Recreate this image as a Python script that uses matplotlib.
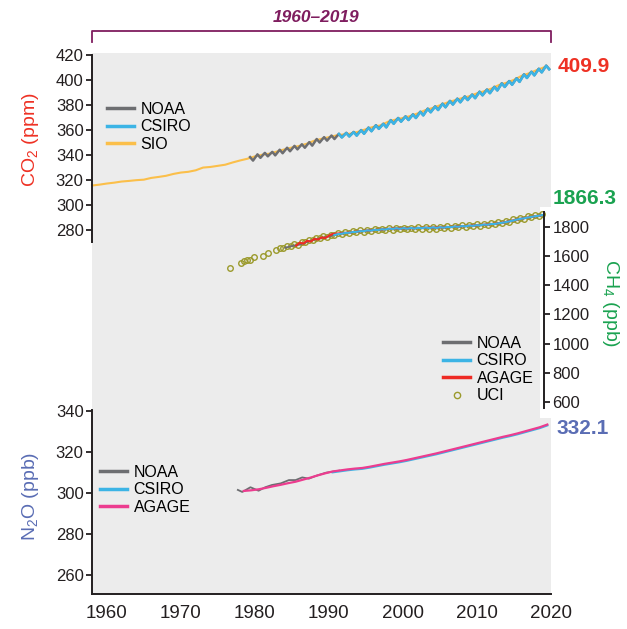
import numpy as np
import matplotlib
matplotlib.use('Agg')
import matplotlib.pyplot as plt
from matplotlib import font_manager
from matplotlib.patches import Rectangle
from matplotlib.lines import Line2D

# --- data ---
# CO2 (ppm)
co2_sio_years = np.arange(1958, 2020)
co2_sio = [315.3, 316.0, 316.9, 317.6, 318.5, 319.0, 319.6, 320.0, 321.4, 322.2,
           323.1, 324.6, 325.7, 326.3, 327.5, 329.7, 330.2, 331.1, 332.0, 333.8,
           335.4, 336.8, 338.7, 340.0, 340.9, 342.6, 344.3, 345.8, 347.1, 348.8,
           351.2, 352.8, 354.1, 355.5, 356.3, 357.0, 358.5, 360.5, 362.4, 363.6,
           366.5, 368.2, 369.5, 371.1, 373.2, 375.7, 377.5, 379.7, 381.9, 383.7,
           385.5, 387.0, 389.3, 391.0, 393.2, 396.0, 397.8, 400.1, 403.2, 405.3,
           407.7, 410.0]

co2_noaa_years = np.arange(1979, 2020)
co2_noaa_peak = [338.1, 340.3, 341.5, 342.3, 344.0, 345.6, 347.1, 348.4, 350.1, 352.6,
                 354.1, 355.4, 356.8, 357.6, 358.3, 359.8, 361.8, 363.7, 364.9, 367.8,
                 369.5, 370.8, 372.4, 374.5, 377.0, 378.8, 381.0, 383.2, 385.0, 386.8,
                 388.3, 390.6, 392.3, 394.5, 397.3, 399.1, 401.4, 404.5, 406.6, 409.0,
                 411.5]
co2_noaa_trough = [335.3, 337.5, 338.7, 339.5, 341.2, 342.8, 344.3, 345.6, 347.3, 349.8,
                   351.3, 352.6, 354.0, 354.8, 355.5, 357.0, 359.0, 360.9, 362.1, 365.0,
                   366.7, 368.0, 369.6, 371.7, 374.2, 376.0, 378.2, 380.4, 382.2, 384.0,
                   385.5, 387.8, 389.5, 391.7, 394.5, 396.3, 398.6, 401.7, 403.8, 406.2,
                   408.7]

co2_csiro_years = np.arange(1991, 2020)
co2_csiro_peak = [356.6, 357.4, 358.1, 359.6, 361.6, 363.5, 364.7, 367.6, 369.3, 370.6,
                  372.2, 374.3, 376.8, 378.6, 380.8, 383.0, 384.8, 386.6, 388.1, 390.4,
                  392.1, 394.3, 397.1, 398.9, 401.2, 404.3, 406.4, 408.8, 411.3]
co2_csiro_trough = [353.8, 354.6, 355.3, 356.8, 358.8, 360.7, 361.9, 364.8, 366.5, 367.8,
                    369.4, 371.5, 374.0, 375.8, 378.0, 380.2, 382.0, 383.8, 385.3, 387.6,
                    389.3, 391.5, 394.3, 396.1, 398.4, 401.5, 403.6, 406.0, 408.5]

# CH4 (ppb)
ch4_noaa_years = np.arange(1984, 2020) + 0.5
ch4_noaa = [1656, 1668, 1677, 1695, 1711, 1723, 1733, 1745, 1754, 1760,
            1766, 1771, 1775, 1779, 1783, 1786, 1787, 1788, 1789, 1791,
            1792, 1793, 1795, 1798, 1801, 1804, 1807, 1811, 1815, 1820,
            1828, 1838, 1850, 1859, 1867, 1874]

ch4_agage_years = [1986.0, 1986.5, 1987.0, 1987.5, 1988.0, 1988.5, 1989.0, 1989.5,
                   1990.0, 1990.5, 1991.0] + list(np.arange(1992, 2020) + 0.5)
ch4_agage = [1670, 1690, 1684, 1703, 1698, 1716, 1712, 1726, 1722, 1738, 1750,
             1756, 1761, 1767, 1772, 1776, 1780, 1784, 1787, 1788, 1789,
             1790, 1792, 1793, 1794, 1796, 1799, 1802, 1805, 1808, 1812,
             1816, 1821, 1829, 1839, 1851, 1860, 1869, 1876]

ch4_csiro_years = np.arange(1991.25, 2020, 0.5)
ch4_csiro = [1743, 1749, 1752, 1757, 1758, 1763, 1764, 1769, 1769, 1774,
             1773, 1778, 1777, 1782, 1781, 1786, 1784, 1789, 1785, 1790,
             1786, 1791, 1787, 1792, 1789, 1794, 1790, 1795, 1791, 1796,
             1793, 1798, 1796, 1801, 1799, 1804, 1802, 1807, 1805, 1810,
             1809, 1814, 1813, 1818, 1818, 1823, 1826, 1831, 1836, 1841,
             1848, 1853, 1857, 1862, 1866, 1871, 1874, 1879]

ch4_uci_years = [1976.9, 1978.5, 1978.9, 1979.3, 1979.7, 1980.2, 1981.5, 1982.2] + \
                list(np.arange(1983.25, 2020, 0.5))
ch4_uci = [1519, 1553, 1566, 1574, 1570, 1594, 1601, 1622,
           1638, 1654, 1652, 1665, 1666, 1679, 1675, 1692, 1694, 1708,
           1707, 1722, 1720, 1733, 1730, 1745, 1741, 1755, 1749, 1762,
           1756, 1768, 1761, 1774, 1766, 1779, 1770, 1783, 1774, 1787,
           1778, 1791, 1780, 1792, 1781, 1794, 1782, 1794, 1784, 1796,
           1785, 1797, 1786, 1798, 1787, 1799, 1790, 1802, 1793, 1805,
           1796, 1808, 1799, 1811, 1802, 1815, 1806, 1819, 1810, 1823,
           1816, 1831, 1824, 1840, 1835, 1851, 1846, 1861, 1855, 1870,
           1864, 1879, 1871, 1884]

# N2O (ppb)
n2o_noaa_years = [1977.7, 1978.3, 1979.4, 1980.5, 1981.4, 1982.3, 1983.5, 1984.6,
                  1985.5, 1986.4, 1987.3, 1988.2, 1989.6, 1990.5, 1991.4]
n2o_noaa = [301.5, 300.5, 302.8, 301.1, 302.8, 303.9, 304.7, 306.3,
            306.3, 307.6, 307.0, 308.3, 309.9, 310.4, 310.9]

n2o_agage_years = np.arange(1978, 2020) + 0.5
n2o_agage = [301.0, 301.3, 301.8, 302.5, 303.3, 304.0, 304.8, 305.5, 306.5, 307.5,
             308.6, 309.6, 310.5, 311.0, 311.5, 311.9, 312.2, 312.8, 313.5, 314.2,
             314.8, 315.4, 316.1, 316.9, 317.7, 318.5, 319.3, 320.2, 321.1, 322.0,
             322.9, 323.8, 324.7, 325.6, 326.5, 327.4, 328.2, 329.1, 330.1, 331.1,
             332.1, 333.4]

n2o_csiro_years = np.arange(1990, 2020) + 0.5
n2o_csiro = [310.1, 310.6, 311.1, 311.5, 311.8, 312.4, 313.1, 313.8, 314.4, 315.0,
             315.7, 316.5, 317.3, 318.1, 318.9, 319.8, 320.7, 321.6, 322.5, 323.4,
             324.3, 325.2, 326.1, 327.0, 327.8, 328.7, 329.7, 330.7, 331.7, 333.0]

latest = {'co2': '409.9', 'ch4': '1866.3', 'n2o': '332.1'}

# --- colours ---
c_noaa = '#6d6e71'
c_csiro = '#3cb4e5'
c_sio = '#fbbf4a'
c_agage = '#ee2a24'
c_agage_n2o = '#ec3c8f'
c_uci = '#9b9a2c'
c_co2 = '#ee3124'
c_ch4 = '#1aa250'
c_n2o = '#5a6db4'
c_purple = '#7f1d5f'
c_axis = '#231f20'

names = {f.name for f in font_manager.fontManager.ttflist}
narrow = 'Liberation Sans Narrow' if 'Liberation Sans Narrow' in names else 'Liberation Sans'
ysize = 14 if narrow == 'Liberation Sans Narrow' else 12
xsize = 16 if narrow == 'Liberation Sans Narrow' else 13.5

plt.rcParams['font.family'] = 'Liberation Sans'
plt.rcParams['mathtext.fontset'] = 'custom'
plt.rcParams['mathtext.rm'] = 'Liberation Sans'
plt.rcParams['mathtext.it'] = 'Liberation Sans:italic'
plt.rcParams['mathtext.bf'] = 'Liberation Sans:bold'

W, H = 627, 629
fig = plt.figure(figsize=(W / 100, H / 100), dpi=100)


def fx(x):
    return x / W


def fy(y):
    return 1 - y / H


def box(x0, y0, x1, y1):
    return [fx(x0), fy(y1), fx(x1) - fx(x0), fy(y0) - fy(y1)]


# grey background panel
bg = fig.add_axes(box(92, 53, 551, 594), zorder=0)
bg.set_facecolor('#ececec')
bg.set_xticks([])
bg.set_yticks([])
for s in bg.spines.values():
    s.set_visible(False)

# white strip behind the CH4 axis
fig.add_artist(Rectangle((fx(540), fy(418)), fx(551) - fx(540), fy(207) - fy(418),
                         transform=fig.transFigure, facecolor='white',
                         edgecolor='none', zorder=0.5))


def style(ax, side):
    ax.set_facecolor('none')
    for k, s in ax.spines.items():
        s.set_visible(k in side)
        s.set_color(c_axis)
        s.set_linewidth(1.4)
    ax.tick_params(axis='y', direction='out', length=4, width=1.3, color=c_axis,
                   labelcolor=c_axis, labelsize=ysize, pad=2)
    for lab in ax.get_yticklabels():
        lab.set_fontfamily(narrow)


def half_year(years, peak, trough):
    t = np.ravel(np.column_stack([np.asarray(years) + 0.35, np.asarray(years) + 0.75]))
    v = np.ravel(np.column_stack([peak, trough]))
    return t, v


leg_kw = dict(loc='upper left', bbox_transform=fig.transFigure, frameon=False,
              borderpad=0, borderaxespad=0, handlelength=1.7, handletextpad=0.4,
              labelspacing=0.15, fontsize=11.5)

# --- CO2 ---
ax1 = fig.add_axes(box(92, 55, 551, 242), zorder=1)
ax1.plot(co2_sio_years, co2_sio, color=c_sio, lw=1.5, clip_on=False)
t, v = half_year(co2_noaa_years, co2_noaa_peak, co2_noaa_trough)
ax1.plot(t, v, color=c_noaa, lw=1.8, clip_on=False)
t, v = half_year(co2_csiro_years, co2_csiro_peak, co2_csiro_trough)
ax1.plot(t, v, color=c_csiro, lw=1.8, clip_on=False)
ax1.set_xlim(1958, 2020)
ax1.set_ylim(270, 420)
ax1.set_yticks(np.arange(280, 421, 20))
ax1.set_xticks([])
style(ax1, ['left'])
h = [Line2D([], [], color=c, lw=2.5) for c in (c_noaa, c_csiro, c_sio)]
ax1.legend(h, ['NOAA', 'CSIRO', 'SIO'], bbox_to_anchor=(fx(107), fy(102)), **leg_kw)

# --- CH4 ---
ax2 = fig.add_axes(box(92, 212, 544, 408), zorder=1)
ax2.plot(ch4_uci_years, ch4_uci, ls='none', marker='o', ms=4, mfc='none',
         mec=c_uci, mew=1.0, clip_on=False)
ax2.plot(ch4_noaa_years, ch4_noaa, color=c_noaa, lw=1.3, clip_on=False)
ax2.plot(ch4_agage_years, ch4_agage, color=c_agage, lw=1.5, clip_on=False)
ax2.plot(ch4_csiro_years, ch4_csiro, color=c_csiro, lw=1.5, clip_on=False)
ax2.set_xlim(1958, 2020)
ax2.set_ylim(560, 1900)
ax2.set_yticks(np.arange(600, 1801, 200))
ax2.set_xticks([])
ax2.yaxis.tick_right()
style(ax2, ['right'])
h = [Line2D([], [], color=c, lw=2.5) for c in (c_noaa, c_csiro, c_agage)]
h.append(Line2D([], [], ls='none', marker='o', ms=4.5, mfc='none', mec=c_uci, mew=1.0))
ax2.legend(h, ['NOAA', 'CSIRO', 'AGAGE', 'UCI'], bbox_to_anchor=(fx(443), fy(336)), **leg_kw)

# --- N2O ---
ax3 = fig.add_axes(box(92, 410, 551, 594), zorder=1)
ax3.plot(n2o_noaa_years, n2o_noaa, color=c_noaa, lw=1.3, clip_on=False)
ax3.plot(n2o_csiro_years, n2o_csiro, color=c_csiro, lw=1.6, clip_on=False)
ax3.plot(n2o_agage_years, n2o_agage, color=c_agage_n2o, lw=1.6, clip_on=False)
ax3.set_xlim(1958, 2020)
ax3.set_ylim(250.7, 340.5)
ax3.set_yticks(np.arange(260, 341, 20))
ax3.set_xticks(np.arange(1960, 2021, 10))
style(ax3, ['left', 'bottom'])
ax3.tick_params(axis='x', length=0, pad=8, labelsize=xsize, labelcolor=c_axis)
for lab in ax3.get_xticklabels():
    lab.set_fontfamily(narrow)
h = [Line2D([], [], color=c, lw=2.5) for c in (c_noaa, c_csiro, c_agage_n2o)]
ax3.legend(h, ['NOAA', 'CSIRO', 'AGAGE'], bbox_to_anchor=(fx(100), fy(465)), **leg_kw)

# axis titles
fig.text(fx(31), fy(140), 'CO$_2$ (ppm)', rotation=90, color=c_co2, fontsize=14,
         ha='center', va='center')
fig.text(fx(31), fy(496), 'N$_2$O (ppb)', rotation=90, color=c_n2o, fontsize=14,
         ha='center', va='center')
fig.text(fx(610), fy(303), 'CH$_4$ (ppb)', rotation=270, color=c_ch4, fontsize=14,
         ha='center', va='center')

# latest values
fig.text(fx(584), fy(67), latest['co2'], color=c_co2, fontsize=15, fontweight='bold',
         ha='center', va='center')
fig.text(fx(585), fy(198), latest['ch4'], color=c_ch4, fontsize=15, fontweight='bold',
         ha='center', va='center')
fig.text(fx(583), fy(428), latest['n2o'], color=c_n2o, fontsize=15, fontweight='bold',
         ha='center', va='center')

# period bracket
fig.add_artist(Line2D([fx(92), fx(92), fx(551), fx(551)], [fy(42), fy(31), fy(31), fy(42)],
                      transform=fig.transFigure, color=c_purple, lw=1.3))
fig.text(fx(316), fy(17), '1960–2019', color=c_purple, fontsize=12.5,
         fontweight='bold', fontstyle='italic', ha='center', va='center')

fig.savefig('out.png', dpi=100)
